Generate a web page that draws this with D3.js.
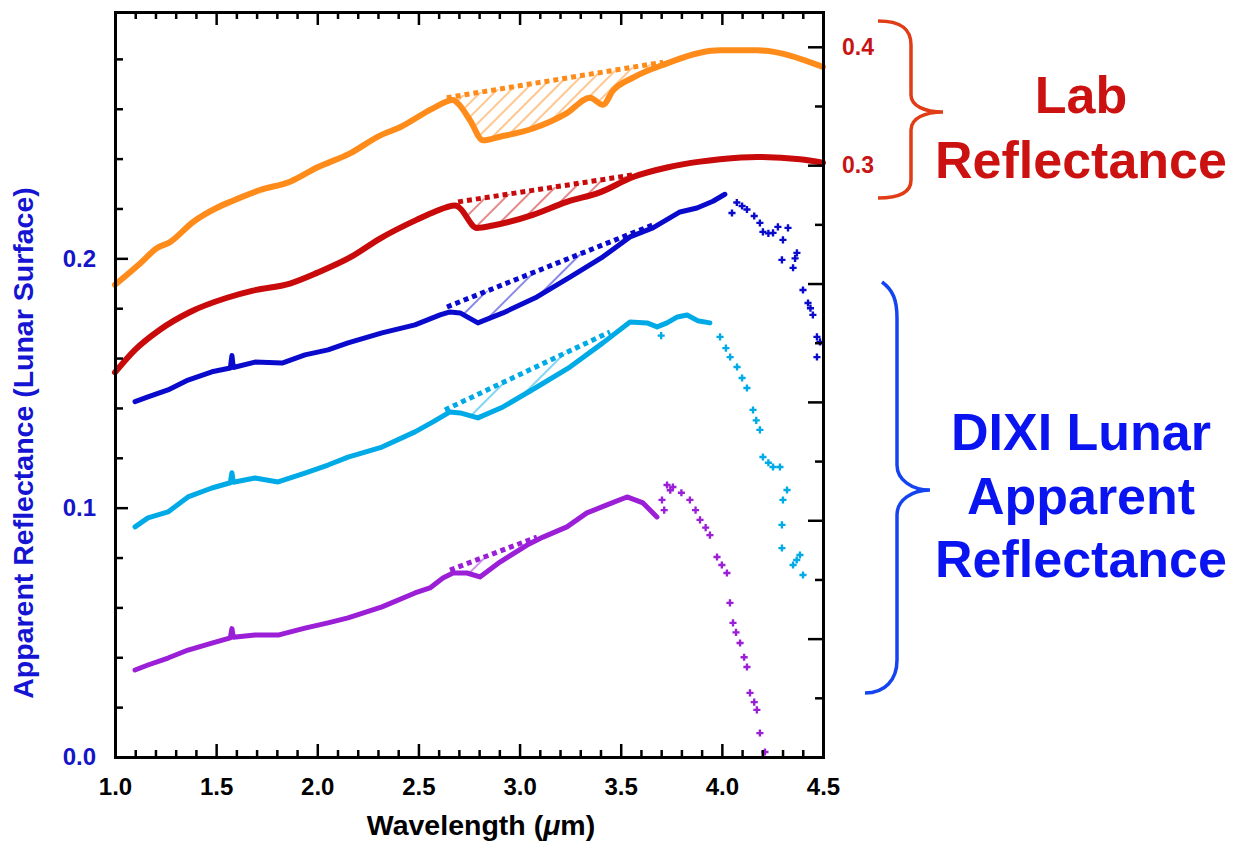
<!DOCTYPE html>
<html>
<head>
<meta charset="utf-8">
<script src="https://cdnjs.cloudflare.com/ajax/libs/d3/7.8.5/d3.min.js"></script>
<style>
body { margin: 0; background: #fff; }
text { font-family: "Liberation Sans", Arial, Helvetica, sans-serif; font-weight: bold; }
</style>
</head>
<body>
<svg id="chart" width="1235" height="845"></svg>
<script>
// [wavelength um, reflectance] -- lab spectra are read on the right axis
var orangeLab = [[1.000,0.199],[1.124,0.217],[1.208,0.230],[1.272,0.235],[1.386,0.252],[1.504,0.264],
  [1.583,0.270],[1.717,0.279],[1.865,0.286],[1.999,0.298],[2.162,0.310],[2.310,0.325],[2.409,0.332],
  [2.572,0.348],[2.671,0.355],[2.696,0.352],[2.755,0.338],[2.819,0.321],[2.903,0.324],[3.066,0.331],
  [3.234,0.344],[3.348,0.357],[3.412,0.351],[3.462,0.363],[3.561,0.374],[3.729,0.386],[3.892,0.395],
  [3.991,0.397],[4.174,0.397],[4.500,0.383]];
var orangeCont = [[2.64,0.357],[3.71,0.387]];

var redLab = [[1.000,0.125],[1.099,0.144],[1.222,0.161],[1.371,0.176],[1.554,0.188],[1.682,0.194],
  [1.865,0.200],[1.999,0.209],[2.162,0.222],[2.310,0.238],[2.493,0.254],[2.572,0.260],[2.681,0.266],
  [2.696,0.265],[2.789,0.247],[2.868,0.249],[3.066,0.258],[3.234,0.269],[3.397,0.277],[3.561,0.290],
  [3.729,0.298],[3.892,0.303],[3.991,0.305],[4.174,0.307],[4.386,0.305],[4.500,0.302]];
var redCont = [[2.696,0.269],[3.57,0.292]];

// DIXI lunar apparent reflectance, left axis
var blueDixi = [[1.099,0.1425],[1.163,0.1444],[1.262,0.1472],[1.361,0.1512],[1.479,0.1545],[1.570,0.1560],
  [1.578,0.1610],[1.585,0.1562],[1.692,0.1584],[1.826,0.1580],[1.939,0.1613],[2.053,0.1633],[2.152,0.1661],
  [2.320,0.1701],[2.483,0.1733],[2.607,0.1773],[2.656,0.1785],[2.706,0.1781],[2.794,0.1741],[2.918,0.1781],
  [3.086,0.1845],[3.249,0.1925],[3.412,0.2006],[3.546,0.2086],[3.659,0.2122],[3.793,0.2186],[3.877,0.2202],
  [3.956,0.2229],[4.015,0.2257]];
var blueTail = [[4.050,0.2182],[4.074,0.2224],[4.100,0.2210],[4.124,0.2196],[4.160,0.2170],[4.188,0.2142],
  [4.203,0.2106],[4.230,0.2100],[4.253,0.2102],[4.277,0.2126],[4.302,0.2074],[4.297,0.1994],[4.327,0.2122],
  [4.352,0.1962],[4.362,0.2000],[4.371,0.2022],[4.401,0.1873],[4.426,0.1821],[4.438,0.1800],[4.450,0.1773],
  [4.470,0.1685],[4.485,0.1665],[4.470,0.1604]];
var blueCont = [[2.641,0.1805],[3.659,0.2134]];

var cyanDixi = [[1.099,0.0923],[1.163,0.0959],[1.262,0.0983],[1.361,0.1043],[1.479,0.1079],[1.570,0.1100],
  [1.578,0.1140],[1.585,0.1102],[1.692,0.1119],[1.806,0.1103],[1.939,0.1139],[2.053,0.1171],[2.152,0.1203],
  [2.320,0.1243],[2.483,0.1304],[2.572,0.1344],[2.656,0.1384],[2.706,0.1380],[2.794,0.1360],[2.918,0.1404],
  [3.086,0.1484],[3.249,0.1564],[3.412,0.1661],[3.546,0.1745],[3.630,0.1741],[3.680,0.1725],[3.729,0.1741],
  [3.780,0.1765],[3.828,0.1773],[3.880,0.1750],[3.941,0.1741]];
var cyanTail = [[3.700,0.1690],[3.991,0.1685],[4.020,0.1640],[4.041,0.1604],[4.075,0.1564],[4.100,0.1520],
  [4.124,0.1480],[4.154,0.1392],[4.170,0.1350],[4.188,0.1312],[4.203,0.1203],[4.230,0.1180],[4.253,0.1163],
  [4.287,0.1163],[4.322,0.1071],[4.302,0.1031],[4.297,0.0931],[4.297,0.0838],[4.352,0.0770],[4.370,0.0790],
  [4.386,0.0810],[4.401,0.0730]];
var cyanCont = [[2.631,0.1392],[3.447,0.1705]];

var purpleDixi = [[1.099,0.0349],[1.163,0.0369],[1.262,0.0397],[1.361,0.0429],[1.479,0.0457],[1.570,0.0478],
  [1.578,0.0515],[1.585,0.0480],[1.692,0.0489],[1.806,0.0489],[1.939,0.0517],[2.053,0.0538],[2.152,0.0558],
  [2.320,0.0602],[2.483,0.0658],[2.557,0.0678],[2.621,0.0718],[2.671,0.0738],[2.740,0.0738],[2.804,0.0722],
  [2.903,0.0782],[3.037,0.0850],[3.116,0.0882],[3.234,0.0923],[3.333,0.0979],[3.432,0.1011],[3.531,0.1043],
  [3.610,0.1019],[3.679,0.0963]];
var purpleTail = [[3.704,0.1031],[3.715,0.0990],[3.729,0.1091],[3.745,0.1070],[3.758,0.1083],[3.800,0.1060],
  [3.842,0.1031],[3.870,0.0990],[3.892,0.0951],[3.920,0.0920],[3.941,0.0890],[3.976,0.0802],[4.000,0.0770],
  [4.025,0.0738],[4.040,0.0618],[4.055,0.0538],[4.070,0.0500],[4.090,0.0457],[4.110,0.0400],[4.124,0.0361],
  [4.139,0.0257],[4.160,0.0220],[4.173,0.0189],[4.188,0.0096],[4.213,0.0020]];
var purpleCont = [[2.656,0.0750],[3.086,0.0882]];

var xTicks = [1.0, 1.5, 2.0, 2.5, 3.0, 3.5, 4.0, 4.5];
var leftTicks = [0.0, 0.1, 0.2];
var rightTicks = [-0.2, -0.1, 0.0, 0.1, 0.2, 0.3, 0.4];
var rightLabels = [0.3, 0.4];

var svg = d3.select("#chart");
var x = d3.scaleLinear().domain([1.0, 4.5]).range([115, 823]);
var yL = d3.scaleLinear().domain([0, 0.2988]).range([757, 12]);
var yR = d3.scaleLinear().domain([-0.2, 0.4294]).range([757, 12]);

var defs = svg.append("defs");
function hatch(id, color, gap) {
  var p = defs.append("pattern").attr("id", id)
    .attr("patternUnits", "userSpaceOnUse")
    .attr("width", gap).attr("height", gap)
    .attr("patternTransform", "rotate(45)");
  p.append("line").attr("x1", gap / 2).attr("y1", 0).attr("x2", gap / 2).attr("y2", gap)
    .attr("stroke", color).attr("stroke-width", 1.3).attr("opacity", 0.75);
}

function spectrum(pts, cont, y, color, gap, id, w, smooth) {
  var line = d3.line().x(function(d) { return x(d[0]); }).y(function(d) { return y(d[1]); });
  var curve = d3.line().x(function(d) { return x(d[0]); }).y(function(d) { return y(d[1]); })
    .curve(smooth ? d3.curveMonotoneX : d3.curveLinear);
  hatch(id, color, gap);
  // band area between continuum and spectrum
  var inside = pts.filter(function(d) { return d[0] > cont[0][0] && d[0] < cont[1][0]; }).reverse();
  svg.append("path").attr("d", line(cont.concat(inside)) + "Z")
    .attr("fill", "url(#" + id + ")").attr("stroke", "none");
  svg.append("path").attr("d", line(cont))
    .attr("fill", "none").attr("stroke", color).attr("stroke-width", 5)
    .attr("stroke-dasharray", "5,4");
  svg.append("path").attr("d", curve(pts))
    .attr("fill", "none").attr("stroke", color).attr("stroke-width", w)
    .attr("stroke-linejoin", "round").attr("stroke-linecap", "round");
}

function tail(pts, y, color) {
  svg.append("g").selectAll("path").data(pts).enter().append("path")
    .attr("transform", function(d) { return "translate(" + x(d[0]) + "," + y(d[1]) + ")"; })
    .attr("d", d3.symbol(d3.symbolCross, 28))
    .attr("fill", color);
}

spectrum(orangeLab, orangeCont, yR, "#ff8c1a", 10, "hOrange", 6, true);
spectrum(redLab, redCont, yR, "#c80a0a", 14, "hRed", 6, true);
spectrum(blueDixi, blueCont, yL, "#0a0acd", 20, "hBlue", 5, false);
tail(blueTail, yL, "#0a0acd");
spectrum(cyanDixi, cyanCont, yL, "#00aae6", 22, "hCyan", 5, false);
tail(cyanTail, yL, "#00aae6");
spectrum(purpleDixi, purpleCont, yL, "#9a1fd6", 22, "hPurple", 5, false);
tail(purpleTail, yL, "#9a1fd6");

// axes, ticks drawn inward on all four sides
var minorX = d3.range(1.0, 4.501, 0.1).filter(function(v) { return Math.abs(v * 2 - Math.round(v * 2)) > 0.01; });
var minorL = d3.range(0.02, 0.29, 0.02).filter(function(v) { return Math.abs(v * 10 - Math.round(v * 10)) > 0.01; });
var minorR = d3.range(-0.15, 0.42, 0.1);

function styleAxis(g) {
  g.selectAll(".domain").attr("stroke", "#000").attr("stroke-width", 3).attr("stroke-linecap", "square");
  g.selectAll(".tick line").attr("stroke", "#000").attr("stroke-width", 2.5);
}

svg.append("g").attr("transform", "translate(0,757)")
  .call(d3.axisBottom(x).tickValues(minorX).tickSizeInner(-7).tickSizeOuter(0).tickFormat(""))
  .call(styleAxis);
svg.append("g").attr("transform", "translate(0,757)")
  .call(d3.axisBottom(x).tickValues(xTicks).tickSizeInner(-13).tickSizeOuter(0)
    .tickPadding(21).tickFormat(d3.format(".1f")))
  .call(styleAxis)
  .selectAll("text").attr("font-size", 24).attr("fill", "#000");

svg.append("g").attr("transform", "translate(0,12)")
  .call(d3.axisTop(x).tickValues(minorX).tickSizeInner(-7).tickSizeOuter(0).tickFormat(""))
  .call(styleAxis);
svg.append("g").attr("transform", "translate(0,12)")
  .call(d3.axisTop(x).tickValues(xTicks).tickSizeInner(-13).tickSizeOuter(0).tickFormat(""))
  .call(styleAxis);

svg.append("g").attr("transform", "translate(115,0)")
  .call(d3.axisLeft(yL).tickValues(minorL).tickSizeInner(-8).tickSizeOuter(0).tickFormat(""))
  .call(styleAxis);
svg.append("g").attr("transform", "translate(115,0)")
  .call(d3.axisLeft(yL).tickValues(leftTicks).tickSizeInner(-13).tickSizeOuter(0)
    .tickPadding(19).tickFormat(d3.format(".1f")))
  .call(styleAxis)
  .selectAll("text").attr("font-size", 24).attr("fill", "#1414c8");

svg.append("g").attr("transform", "translate(823,0)")
  .call(d3.axisRight(yR).tickValues(minorR).tickSizeInner(-8).tickSizeOuter(0).tickFormat(""))
  .call(styleAxis);
svg.append("g").attr("transform", "translate(823,0)")
  .call(d3.axisRight(yR).tickValues(rightTicks).tickSizeInner(-15).tickSizeOuter(0).tickPadding(19)
    .tickFormat(function(d) { return rightLabels.indexOf(d) >= 0 ? d3.format(".1f")(d) : ""; }))
  .call(styleAxis)
  .selectAll("text").attr("font-size", 23).attr("fill", "#c81414");

// axis titles
var xt = svg.append("text").attr("x", 481).attr("y", 835).attr("text-anchor", "middle")
  .attr("font-size", 28.5).attr("fill", "#000");
xt.append("tspan").text("Wavelength (");
xt.append("tspan").attr("font-style", "italic").text("\u03bc");
xt.append("tspan").text("m)");

svg.append("text").attr("transform", "translate(33,443) rotate(-90)")
  .attr("text-anchor", "middle").attr("font-size", 28.5).attr("fill", "#1414d2")
  .text("Apparent Reflectance (Lunar Surface)");

// braces and group labels
svg.append("path")
  .attr("d", "M878,21 C900,21 911,28 911,45 L911,95 C911,106 925,112 943,112 C925,112 911,118 911,130 L911,180 C911,192 900,198 878,198")
  .attr("fill", "none").attr("stroke", "#e03c16").attr("stroke-width", 3.5);
svg.append("path")
  .attr("d", "M882,282 C893,290 897,300 897,318 L897,465 C897,480 912,490 930,490 C912,490 897,500 897,515 L897,660 C897,680 885,693 865,693")
  .attr("fill", "none").attr("stroke", "#1444f0").attr("stroke-width", 3.5);

var labLines = ["Lab", "Reflectance"];
svg.append("g").selectAll("text").data(labLines).enter().append("text")
  .attr("x", 1081).attr("y", function(d, i) { return 113 + i * 65; })
  .attr("text-anchor", "middle").attr("font-size", 52).attr("fill", "#cc1111")
  .text(function(d) { return d; });

var dixiLines = ["DIXI Lunar", "Apparent", "Reflectance"];
svg.append("g").selectAll("text").data(dixiLines).enter().append("text")
  .attr("x", 1081).attr("y", function(d, i) { return 450 + i * 63.5; })
  .attr("text-anchor", "middle").attr("font-size", 52).attr("fill", "#0a14f0")
  .text(function(d) { return d; });
</script>
</body>
</html>
